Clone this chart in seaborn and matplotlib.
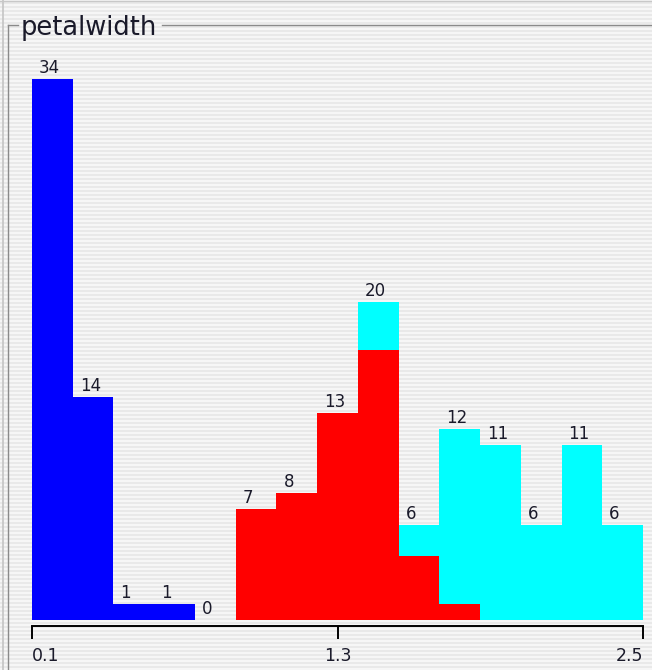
import numpy as np
import pandas as pd
import matplotlib
matplotlib.use("Agg")
import matplotlib.pyplot as plt
import matplotlib.lines as mlines
import seaborn as sns

# petalwidth histogram, 15 bins between 0.1 and 2.5, stacked by class
setosa = [34, 14, 1, 1, 0, 0, 0, 0, 0, 0, 0, 0, 0, 0, 0]
versicolor = [0, 0, 0, 0, 0, 7, 8, 13, 17, 4, 1, 0, 0, 0, 0]
virginica = [0, 0, 0, 0, 0, 0, 0, 0, 3, 2, 11, 11, 6, 11, 6]
class_names = ["Iris-setosa", "Iris-versicolor", "Iris-virginica"]
class_colors = ["#0000ff", "#ff0000", "#00ffff"]
tick_vals = [0.1, 1.3, 2.5]
tick_labels = ["0.1", "1.3", "2.5"]

edges = np.linspace(0.1, 2.5, 16)
centers = (edges[:-1] + edges[1:]) / 2

rows = []
for name, counts in zip(class_names, [setosa, versicolor, virginica]):
    for c, n in zip(centers, counts):
        rows.append({"petalwidth": c, "class": name, "count": n})
df = pd.DataFrame(rows)
totals = np.array(setosa) + np.array(versicolor) + np.array(virginica)

W, H = 652, 670
fig = plt.figure(figsize=(W / 100, H / 100), dpi=100)

# aqua pinstripe background
stripe = np.zeros((H, W, 3))
for r in range(H):
    v = 0.968 if (r % 4) < 2 else 0.915
    stripe[r, :, :] = v
fig.figimage(stripe, xo=0, yo=0, zorder=-5)

# window edge + titled border
def px_line(x0, y0, x1, y1, color, lw):
    fig.add_artist(mlines.Line2D([x0 / W, x1 / W], [1 - y0 / H, 1 - y1 / H],
                                 color=color, lw=lw, transform=fig.transFigure,
                                 zorder=-1))

px_line(2.5, 0, 2.5, H, "#c4c4c4", 1.2)
px_line(7.5, 25, 7.5, H, "#8a8a8a", 1.0)
px_line(7.5, 25, 18, 25, "#8a8a8a", 1.0)
px_line(162, 25, W, 25, "#8a8a8a", 1.0)
px_line(0, 0.5, W, 0.5, "#c8c8c8", 1.0)
fig.text(21 / W, 1 - 35 / H, "petalwidth", fontsize=18.5, color="#1a1a2a",
         va="baseline", ha="left")

ax = fig.add_axes([32 / W, (H - 620) / H, 611 / W, 590 / H])
ax.set_zorder(1)
ax.patch.set_visible(False)

sns.histplot(data=df, x="petalwidth", weights="count", hue="class",
             hue_order=class_names[::-1], palette=class_colors[::-1],
             multiple="stack", bins=list(edges), linewidth=0, alpha=1,
             legend=False, ax=ax)

ax.set_xlim(0.1, 2.5)
ax.set_ylim(0, 590 / 15.91)
ax.set_xlabel("")
ax.set_ylabel("")
ax.set_yticks([])
for s in ["top", "right", "left"]:
    ax.spines[s].set_visible(False)
ax.spines["bottom"].set_position(("outward", 4.3))
ax.spines["bottom"].set_linewidth(1.4)
ax.spines["bottom"].set_color("black")
ax.set_xticks(tick_vals)
ax.set_xticklabels(tick_labels, fontsize=12.5, color="#1a1a2a")
ax.tick_params(axis="x", direction="out", length=9.4, width=1.4, pad=6.0)
labs = ax.get_xticklabels()
labs[0].set_ha("left")
labs[-1].set_ha("right")

for left, n in zip(edges[:-1], totals):
    ax.annotate(str(n), (left, n), xytext=(7, 2), textcoords="offset pixels",
                ha="left", va="bottom", fontsize=12, color="#1a1a2a")

fig.savefig("out.png", dpi=100)
